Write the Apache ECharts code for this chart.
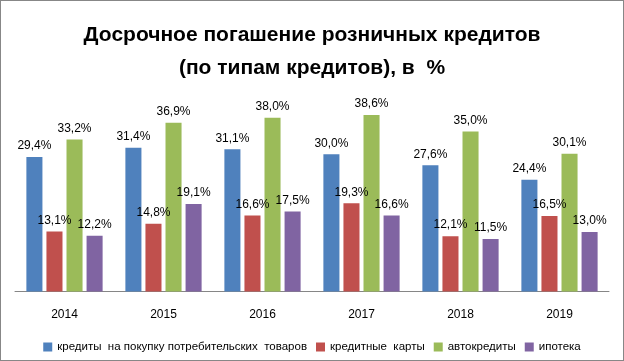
<!DOCTYPE html>
<html>
<head>
<meta charset="utf-8">
<script src="https://cdn.jsdelivr.net/npm/echarts@6/dist/echarts.min.js"></script>
<style>
html,body{margin:0;padding:0;background:#fff;}
#c{width:624px;height:361px;box-sizing:border-box;border:1px solid #878787;}
</style>
</head>
<body>
<div id="c"></div>
<script>
var categories = ['2014','2015','2016','2017','2018','2019'];
var seriesNames = ['кредиты  на покупку потребительских  товаров','кредитные  карты','автокредиты','ипотека'];
var consumer = [29.4, 31.4, 31.1, 30.0, 27.6, 24.4];
var cards = [13.1, 14.8, 16.6, 19.3, 12.1, 16.5];
var auto = [33.2, 36.9, 38.0, 38.6, 35.0, 30.1];
var mortgage = [12.2, 19.1, 17.5, 16.6, 11.5, 13.0];
var colors = ['#4F81BD','#C0504D','#9BBB59','#8064A2'];

var chart = echarts.init(document.getElementById('c'));
var font = 'Liberation Sans';
function mk(name, data, color) {
  return {
    name: name, type: 'bar', data: data,
    barGap: '25%', barCategoryGap: '23%',
    itemStyle: {color: color},
    label: {
      show: true, position: 'top', distance: 5,
      fontFamily: font, fontSize: 12, color: '#000',
      formatter: function(p){ return p.value.toFixed(1).replace('.', ',') + '%'; }
    }
  };
}
chart.setOption({
  animation: false,
  color: colors,
  title: {
    text: 'Досрочное погашение розничных кредитов\n(по типам кредитов), в  %',
    left: 'center', top: 13,
    padding: [5, 5, 5, 15],
    textStyle: {fontFamily: font, fontWeight: 'bold', fontSize: 21, color: '#000', lineHeight: 33}
  },
  legend: {
    bottom: 2, left: 'center',
    itemWidth: 9, itemHeight: 9, itemGap: 9,
    icon: 'rect',
    textStyle: {fontFamily: font, fontSize: 11.5, color: '#000'},
    data: seriesNames
  },
  grid: {left: 14, right: 14, top: 107.5, bottom: 68.5},
  xAxis: {
    type: 'category', data: categories,
    axisLine: {lineStyle: {color: '#868686'}},
    axisTick: {show: false},
    axisLabel: {fontFamily: font, fontSize: 12, color: '#000', margin: 17}
  },
  yAxis: {
    type: 'value', min: 0, max: 40, show: false,
    splitLine: {show: false}
  },
  series: [
    mk(seriesNames[0], consumer, colors[0]),
    mk(seriesNames[1], cards, colors[1]),
    mk(seriesNames[2], auto, colors[2]),
    mk(seriesNames[3], mortgage, colors[3])
  ]
});
</script>
</body>
</html>
